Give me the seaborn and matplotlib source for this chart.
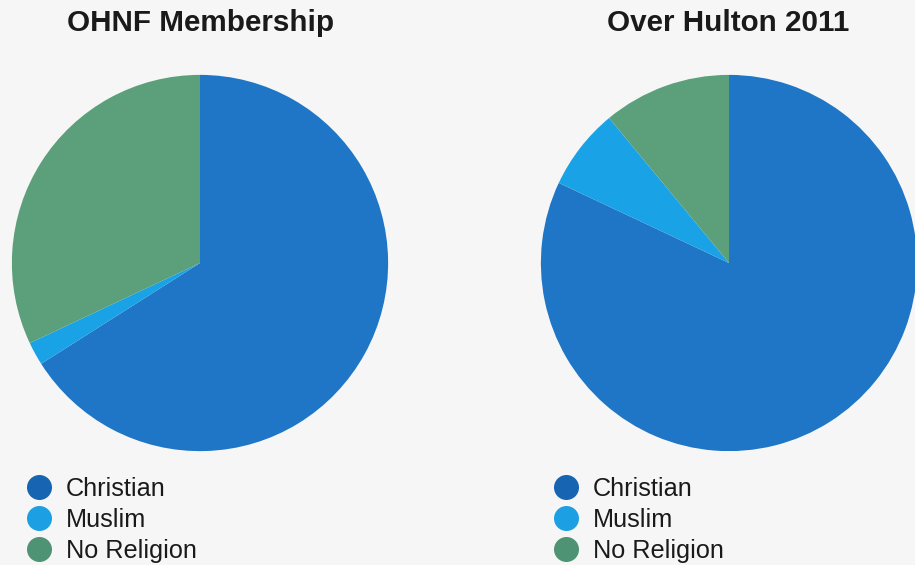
import matplotlib
matplotlib.use("Agg")
import matplotlib.pyplot as plt
import seaborn as sns
from matplotlib.lines import Line2D

# Data (percent)
religions = ["Christian", "Muslim", "No Religion"]
ohnf_share = [66, 2, 32]
hulton_share = [82, 7, 11]
titles = ["OHNF Membership", "Over Hulton 2011"]

colors = ["#1f76c6", "#1aa2e6", "#5c9f7b"]
legend_colors = ["#1664b2", "#1d9fe4", "#4e9373"]

sns.set_theme(style="white")
plt.rcParams["font.family"] = ["Liberation Sans", "DejaVu Sans"]

fig = plt.figure(figsize=(9.15, 5.65), dpi=100)
fig.patch.set_facecolor("#f6f6f6")

# pie axes placed in figure coords (left, bottom, width, height)
ax_left = fig.add_axes([10 / 915, 112 / 565, 380 / 915, 380 / 565])
ax_right = fig.add_axes([539 / 915, 112 / 565, 380 / 915, 380 / 565])

for ax, share, title, cx in zip([ax_left, ax_right], [ohnf_share, hulton_share],
                                titles, [201, 728]):
    ax.pie(share, colors=colors, startangle=90, counterclock=False,
           wedgeprops=dict(linewidth=0))
    ax.set_xlim(-1.01, 1.01)
    ax.set_ylim(-1.01, 1.01)
    ax.set_aspect("equal")
    ax.set_facecolor("none")
    fig.text(cx / 915, 1 - 23 / 565, title, ha="center", va="center",
             fontsize=21.3, fontweight="bold", color="#1a1a1a")

    handles = [Line2D([0], [0], marker="o", linestyle="none", markersize=18,
                      markerfacecolor=c, markeredgewidth=0)
               for c in legend_colors]
    ax.legend(handles, religions, loc="upper left",
              bbox_to_anchor=((cx - 174) / 915, 1 - 477 / 565),
              bbox_transform=fig.transFigure, frameon=False,
              fontsize=18.2, handlelength=0.96, handletextpad=0.58,
              labelspacing=0.28, borderpad=0, borderaxespad=0,
              labelcolor="#1a1a1a")

fig.savefig("out.png", dpi=100, facecolor=fig.get_facecolor())
